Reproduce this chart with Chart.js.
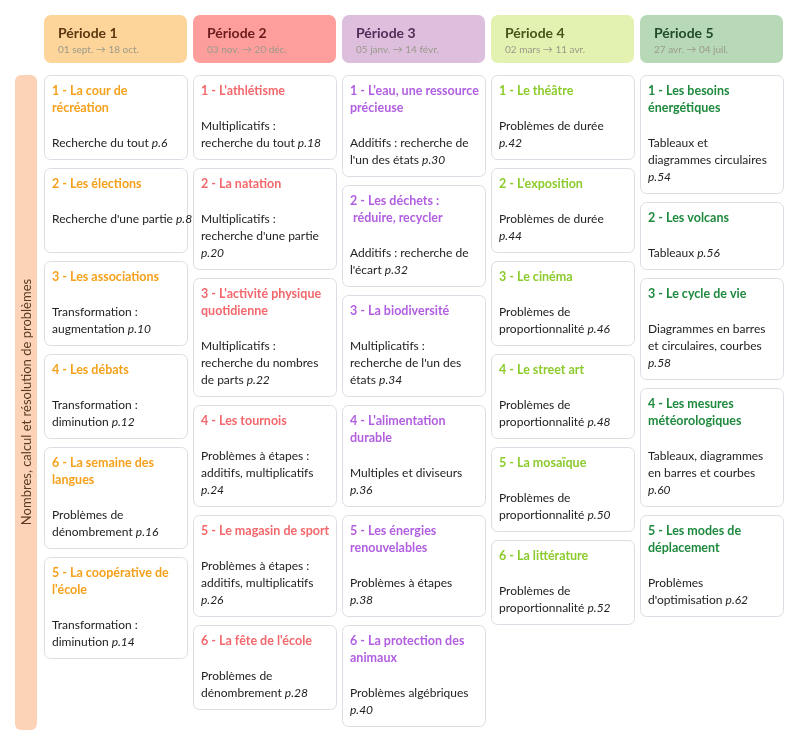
<!DOCTYPE html>
<html><head><meta charset="utf-8">
<script src="https://cdn.jsdelivr.net/npm/chart.js@4"></script>
<style>html,body{margin:0;background:#fff}#w{width:800px;height:746px}</style>
</head><body><div id="w"><canvas id="c"></canvas></div>
<script>
const periods = ["Période 1","Période 2","Période 3","Période 4","Période 5"];
const dates = ["01 sept. → 18 oct.","03 nov. → 20 déc.","05 janv. → 14 févr.","02 mars → 11 avr.","27 avr. → 04 juil."];
const sideLabel = "Nombres, calcul et résolution de problèmes";
// each card: [title lines, description lines ("@" = page alone, "" = blank), page]
const p1 = [
 [["1 - La cour de","récréation"],["Recherche du tout"],"p.6"],
 [["2 - Les élections"],["Recherche d'une partie",""],"p.8"],
 [["3 - Les associations"],["Transformation :","augmentation"],"p.10"],
 [["4 - Les débats"],["Transformation :","diminution"],"p.12"],
 [["6 - La semaine des","langues"],["Problèmes de","dénombrement"],"p.16"],
 [["5 - La coopérative de","l'école"],["Transformation :","diminution"],"p.14"]];
const p2 = [
 [["1 - L'athlétisme"],["Multiplicatifs :","recherche du tout"],"p.18"],
 [["2 - La natation"],["Multiplicatifs :","recherche d'une partie","@"],"p.20"],
 [["3 - L'activité physique","quotidienne"],["Multiplicatifs :","recherche du nombres","de parts"],"p.22"],
 [["4 - Les tournois"],["Problèmes à étapes :","additifs, multiplicatifs","@"],"p.24"],
 [["5 - Le magasin de sport"],["Problèmes à étapes :","additifs, multiplicatifs","@"],"p.26"],
 [["6 - La fête de l'école"],["Problèmes de","dénombrement"],"p.28"]];
const p3 = [
 [["1 - L'eau, une ressource","précieuse"],["Additifs : recherche de","l'un des états"],"p.30"],
 [["2 - Les déchets :"," réduire, recycler"],["Additifs : recherche de","l'écart"],"p.32"],
 [["3 - La biodiversité"],["Multiplicatifs :","recherche de l'un des","états"],"p.34"],
 [["4 - L'alimentation","durable"],["Multiples et diviseurs","@"],"p.36"],
 [["5 - Les énergies","renouvelables"],["Problèmes à étapes","@"],"p.38"],
 [["6 - La protection des","animaux"],["Problèmes algébriques","@"],"p.40"]];
const p4 = [
 [["1 - Le théâtre"],["Problèmes de durée","@"],"p.42"],
 [["2 - L'exposition"],["Problèmes de durée","@"],"p.44"],
 [["3 - Le cinéma"],["Problèmes de","proportionnalité"],"p.46"],
 [["4 - Le street art"],["Problèmes de","proportionnalité"],"p.48"],
 [["5 - La mosaïque"],["Problèmes de","proportionnalité"],"p.50"],
 [["6 - La littérature"],["Problèmes de","proportionnalité"],"p.52"]];
const p5 = [
 [["1 - Les besoins","énergétiques"],["Tableaux et","diagrammes circulaires","@"],"p.54"],
 [["2 - Les volcans"],["Tableaux"],"p.56"],
 [["3 - Le cycle de vie"],["Diagrammes en barres","et circulaires, courbes","@"],"p.58"],
 [["4 - Les mesures","météorologiques"],["Tableaux, diagrammes","en barres et courbes","@"],"p.60"],
 [["5 - Les modes de","déplacement"],["Problèmes","d'optimisation"],"p.62"]];
const cards = [p1,p2,p3,p4,p5];
const headBg = ["#fdd59b","#fd9e9d","#ddbedd","#e3f1b1","#b8d9b8"];
const headInk = ["#5b3710","#6b1c1c","#4e2e58","#48561a","#1f4b2b"];
const accent = ["#f5a11c","#f2686c","#b15fe0","#8ccb2c","#1f8a3e"];

function rr(ctx,x,y,w,h,r){ctx.beginPath();ctx.moveTo(x+r,y);ctx.arcTo(x+w,y,x+w,y+h,r);ctx.arcTo(x+w,y+h,x,y+h,r);ctx.arcTo(x,y+h,x,y,r);ctx.arcTo(x,y,x+w,y,r);ctx.closePath();}

const board = {id:'board', afterDraw(chart){
  const ctx=chart.ctx, xs=chart.scales.x, area=chart.chartArea;
  const cw=143, lh=17;
  ctx.save();
  ctx.fillStyle="#fdd3b7"; rr(ctx,15,75,22,655,6); ctx.fill();
  ctx.save(); ctx.translate(27,402); ctx.rotate(-Math.PI/2);
  ctx.fillStyle="#5a3a20"; ctx.font="13px Lato"; ctx.textAlign="center"; ctx.textBaseline="middle";
  ctx.fillText(sideLabel,0,0); ctx.restore();
  periods.forEach((p,i)=>{
    const cx=xs.getPixelForValue(i), x=cx-cw/2;
    ctx.fillStyle=headBg[i]; rr(ctx,x,15,cw,48,7); ctx.fill();
    ctx.textAlign="left"; ctx.textBaseline="middle";
    ctx.fillStyle=headInk[i]; ctx.font="bold 14px Lato"; ctx.fillText(p,x+14,33);
    ctx.fillStyle="#9a9a8a"; ctx.font="10px Lato"; ctx.fillText(dates[i],x+14,50);
    let y=area.top;
    cards[i].forEach(c=>{
      const [t,d,pg]=c;
      const h=34+lh*(t.length+d.length);
      ctx.fillStyle="#fff"; ctx.strokeStyle="#dcdce4"; ctx.lineWidth=1;
      rr(ctx,x+0.5,y+0.5,cw,h-1,6); ctx.fill(); ctx.stroke();
      let ty=y+16;
      ctx.fillStyle=accent[i]; ctx.font="bold 12.5px Lato";
      t.forEach(l=>{ctx.fillText(l,x+8,ty); ty+=lh;});
      ty+=lh+1;
      const hasAt=d.includes("@");
      let last=d.length-1; while(last>0 && d[last]==="") last--;
      d.forEach((l,k)=>{
        ctx.fillStyle="#222";
        if(l==="@"){ctx.font="italic 12px Lato"; ctx.fillText(pg,x+8,ty);}
        else if(l!==""){
          ctx.font="12px Lato"; ctx.fillText(l,x+8,ty);
          if(!hasAt && k===last){const w=ctx.measureText(l+" ").width; ctx.font="italic 12px Lato"; ctx.fillText(pg,x+8+w,ty);}
        }
        ty+=lh;
      });
      y+=h+8;
    });
  });
  ctx.restore();
}};

new Chart(document.getElementById('c'),{
  type:'bar',
  data:{labels:periods,datasets:[{data:periods.map((_,i)=>cards[i].length),backgroundColor:'rgba(0,0,0,0)'}]},
  options:{responsive:true,maintainAspectRatio:false,animation:false,
    layout:{padding:{left:41,right:14,top:75,bottom:10}},
    plugins:{legend:{display:false},tooltip:{enabled:false}},
    scales:{x:{display:false},y:{display:false}}},
  plugins:[board]
});
</script></body></html>
